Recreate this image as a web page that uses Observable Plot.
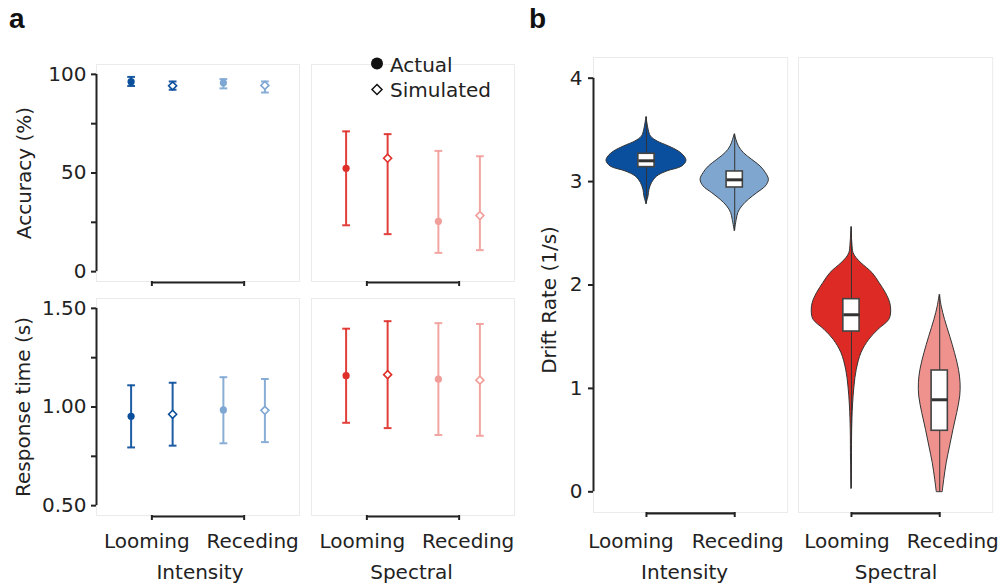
<!DOCTYPE html>
<html><head><meta charset="utf-8">
<script src="https://cdn.jsdelivr.net/npm/d3@7"></script>
<script src="https://cdn.jsdelivr.net/npm/@observablehq/plot@0.6"></script>
<style>
html,body{margin:0;padding:0;background:#fff;}
#root{position:relative;width:1003px;height:588px;overflow:hidden;background:#fff;font-family:"DejaVu Sans";}
#root svg{position:absolute;}
</style></head><body><div id="root"></div>
<script>
// ---------------- DATA ----------------
const conditions = ["Looming", "Receding"];
const modalities = ["Intensity", "Spectral"];
const sources = ["Actual", "Simulated"];

const rowModality  = ["Intensity","Intensity","Intensity","Intensity","Spectral","Spectral","Spectral","Spectral"];
const rowCondition = ["Looming","Looming","Receding","Receding","Looming","Looming","Receding","Receding"];
const rowSource    = ["Actual","Simulated","Actual","Simulated","Actual","Simulated","Actual","Simulated"];

// Accuracy (%)
const accMean = [96.3, 94.2, 95.7, 94.4, 52.4, 57.5, 25.5, 28.4];
const accLow  = [94.1, 92.2, 92.9, 90.8, 23.5, 19.0, 9.5, 10.9];
const accHigh = [98.7, 96.4, 97.6, 96.4, 71.1, 69.7, 61.2, 58.5];
// Response time (s)
const rtMean = [0.953, 0.963, 0.985, 0.983, 1.159, 1.164, 1.141, 1.136];
const rtLow  = [0.795, 0.804, 0.816, 0.822, 0.920, 0.893, 0.858, 0.854];
const rtHigh = [1.110, 1.123, 1.151, 1.142, 1.397, 1.435, 1.425, 1.421];

const accTicks = [0, 25, 50, 75, 100];
const accTickLabels = ["0", "", "50", "", "100"];
const rtTicks = [0.5, 0.75, 1, 1.25, 1.5];
const rtTickLabels = ["0.50", "", "1.00", "", "1.50"];
const driftTicks = [0, 1, 2, 3, 4];
const driftTickLabels = ["0", "1", "2", "3", "4"];

// Drift rate violins: levels (1/s) and half-widths (in category units)
const violinIntLoomY = [2.783, 2.856, 2.92, 2.985, 3.05, 3.098, 3.146, 3.20, 3.243, 3.29, 3.34, 3.388, 3.436, 3.50, 3.624];
const violinIntLoomW = [0, 0.023, 0.034, 0.062, 0.123, 0.236, 0.406, 0.453, 0.43, 0.368, 0.255, 0.125, 0.051, 0.025, 0];
const violinIntRecY = [2.524, 2.63, 2.695, 2.759, 2.824, 2.888, 2.953, 3.017, 3.082, 3.146, 3.21, 3.275, 3.34, 3.40, 3.458];
const violinIntRecW = [0, 0.023, 0.04, 0.085, 0.16, 0.255, 0.353, 0.387, 0.353, 0.293, 0.198, 0.104, 0.047, 0.02, 0];
const violinSpecLoomY = [0.03, 0.3, 0.6, 0.825, 1.018, 1.18, 1.341, 1.47, 1.567, 1.663, 1.744, 1.825, 1.92, 2.02, 2.115, 2.21, 2.26, 2.31, 2.40, 2.56];
const violinSpecLoomW = [0, 0.005, 0.008, 0.017, 0.034, 0.06, 0.113, 0.202, 0.306, 0.429, 0.45, 0.439, 0.391, 0.317, 0.238, 0.113, 0.057, 0.023, 0.01, 0];
const violinSpecRecY = [0.0, 0.116, 0.277, 0.438, 0.60, 0.761, 0.922, 1.05, 1.18, 1.341, 1.50, 1.663, 1.79, 1.905];
const violinSpecRecW = [0.034, 0.051, 0.079, 0.117, 0.156, 0.198, 0.232, 0.236, 0.218, 0.173, 0.119, 0.06, 0.023, 0];

// Box plot summaries: [Int-Looming, Int-Receding, Spec-Looming, Spec-Receding]
const driftMin = [2.783, 2.524, 0.03, 0.0];
const driftQ1  = [3.140, 2.943, 1.55, 0.59];
const driftMed = [3.201, 3.017, 1.712, 0.89];
const driftQ3  = [3.269, 3.098, 1.863, 1.173];
const driftMax = [3.624, 3.458, 2.56, 1.905];

// ---------------- STYLE ----------------
const pointColors = {
  "Intensity|Looming": "#0b4f9c", "Intensity|Receding": "#7fa7d3",
  "Spectral|Looming": "#df2f2a", "Spectral|Receding": "#f19e9a"
};
const violinColors = {
  "Intensity|Looming": "#0a4f9e", "Intensity|Receding": "#7fa6cf",
  "Spectral|Looming": "#de2a24", "Spectral|Receding": "#ef928e"
};
const textColor = "#222";
const FONT = "DejaVu Sans";
const xDomain = [-0.6, 1.6];
const dodge = 0.225;

const root = document.getElementById("root");

const rows = rowModality.map((m, i) => ({
  modality: m, condition: rowCondition[i], source: rowSource[i],
  key: m + "|" + rowCondition[i],
  pos: conditions.indexOf(rowCondition[i]) + (rowSource[i] === "Actual" ? -dodge : dodge),
  acc: accMean[i], accLo: accLow[i], accHi: accHigh[i],
  rt: rtMean[i], rtLo: rtLow[i], rtHi: rtHigh[i]
}));

function panel(o) {
  const ml = 110, mr = 12, mt = 12, mb = 80;
  const marks = [Plot.frame({stroke: "#ebebeb", strokeWidth: 1})];
  marks.push(...o.marks);
  if (o.showY) {
    marks.push(Plot.ruleX([xDomain[0]], {y1: o.yTicks[0], y2: o.yTicks[o.yTicks.length - 1], stroke: textColor, strokeWidth: 2}));
    marks.push(Plot.axisY(o.yTicks, {tickSize: 5, tickPadding: o.yPad, strokeWidth: 2, fontSize: 20, fill: textColor,
      tickFormat: (d, i) => o.yLabels[o.yTicks.indexOf(d)], label: null}));
    marks.push(Plot.text([o.yTitle], {text: d => d, frameAnchor: "left", textAnchor: "middle", lineAnchor: "middle", rotate: -90, dx: o.yTitleDx, dy: o.yTitleDy, fontSize: 20, fill: textColor}));
  }
  // capped x axis bracket
  marks.push(Plot.ruleY([o.yDomain[0]], {x1: 0, x2: 1, stroke: textColor, strokeWidth: 2.2, dy: 1}));
  marks.push(Plot.axisX([0, 1], {tickSize: 5, strokeWidth: 2, tickFormat: () => "", label: null, stroke: textColor}));
  if (o.showX) {
    conditions.forEach((c, i) => {
      marks.push(Plot.axisX([i], {tickSize: 0, tickPadding: o.xPad, dx: o.xDx[i], fontSize: 20, fill: textColor,
        tickFormat: () => c, label: null}));
    });
    marks.push(Plot.text([o.facet], {text: d => d, frameAnchor: "bottom", lineAnchor: "bottom", dy: o.facetDy, dx: o.facetDx, fontSize: 20, fill: textColor}));
  }
  const svg = Plot.plot({
    width: ml + o.fw + mr, height: mt + o.fh + mb,
    marginLeft: ml, marginRight: mr, marginTop: mt, marginBottom: mb,
    x: {domain: xDomain, axis: null},
    y: {domain: o.yDomain, axis: null},
    style: {background: "transparent", overflow: "visible", fontFamily: FONT, fontSize: "20px", color: textColor},
    marks
  });
  svg.style.left = (o.fl - ml) + "px";
  svg.style.top = (o.ft - mt) + "px";
  root.appendChild(svg);
}

function pointMarks(modality, v, lo, hi) {
  const data = rows.filter(d => d.modality === modality);
  const act = data.filter(d => d.source === "Actual");
  const sim = data.filter(d => d.source === "Simulated");
  const col = d => pointColors[d.key];
  const cap = 0.042;
  return [
    Plot.ruleX(data, {x: "pos", y1: lo, y2: hi, stroke: col, strokeWidth: 2, strokeOpacity: 0.92}),
    Plot.link(data, {x1: d => d.pos - cap, x2: d => d.pos + cap, y1: hi, y2: hi, stroke: col, strokeWidth: 2, strokeOpacity: 0.92}),
    Plot.link(data, {x1: d => d.pos - cap, x2: d => d.pos + cap, y1: lo, y2: lo, stroke: col, strokeWidth: 2, strokeOpacity: 0.92}),
    Plot.dot(act, {x: "pos", y: v, r: 3.6, fill: col, stroke: "none"}),
    Plot.dot(sim, {x: "pos", y: v, r: 3.6, symbol: "diamond2", fill: "white", stroke: col, strokeWidth: 1.6})
  ];
}

// ---- Panel a ----
const aCols = [{fl: 96, facet: "Intensity", xDx: [-5, 8.5], facetDx: 2}, {fl: 311, facet: "Spectral", xDx: [-4.5, 9], facetDx: -1.5}];
aCols.forEach((c, ci) => {
  panel({fl: c.fl, ft: 64, fw: 203, fh: 217, yDomain: [-5, 105], yTicks: accTicks, yLabels: accTickLabels,
    yPad: 5, yTitle: "Accuracy (%)", yTitleDx: -72, yTitleDy: 0, showY: ci === 0, showX: false,
    facet: c.facet, marks: pointMarks(c.facet, "acc", "accLo", "accHi")});
  panel({fl: c.fl, ft: 298, fw: 203, fh: 217, yDomain: [0.45, 1.55], yTicks: rtTicks, yLabels: rtTickLabels,
    yPad: 5, yTitle: "Response time (s)", yTitleDx: -73, yTitleDy: 0, showY: ci === 0, showX: true,
    xPad: 18, xDx: c.xDx, facet: c.facet, facetDx: c.facetDx, facetDy: 63.5,
    marks: pointMarks(c.facet, "rt", "rtLo", "rtHi")});
});

// ---- Panel b ----
const violinY = [[violinIntLoomY, violinIntRecY], [violinSpecLoomY, violinSpecRecY]];
const violinW = [[violinIntLoomW, violinIntRecW], [violinSpecLoomW, violinSpecRecW]];
const bCols = [{fl: 592.7, facet: "Intensity", xDx: [-15.5, 3], facetDx: -6}, {fl: 797.7, facet: "Spectral", xDx: [-4.5, 13], facetDx: 0.5}];
bCols.forEach((c, ci) => {
  const marks = [];
  conditions.forEach((cond, k) => {
    const key = c.facet + "|" + cond;
    const prof = violinY[ci][k].map((y, j) => ({y, w: violinW[ci][k][j]}));
    const g = ci * 2 + k;
    marks.push(Plot.areaX(prof, {y: "y", x1: d => k - d.w, x2: d => k + d.w, fill: violinColors[key], stroke: "#333", strokeWidth: 1, curve: "catmull-rom"}));
    const box = [{x: k, min: driftMin[g], q1: driftQ1[g], med: driftMed[g], q3: driftQ3[g], max: driftMax[g]}];
    const bw = 0.092;
    marks.push(Plot.ruleX(box, {x: "x", y1: "min", y2: "max", stroke: "#333", strokeWidth: 1}));
    marks.push(Plot.rect(box, {x1: d => d.x - bw, x2: d => d.x + bw, y1: "q1", y2: "q3", fill: "white", stroke: "#444", strokeWidth: 1.6}));
    marks.push(Plot.link(box, {x1: d => d.x - bw, x2: d => d.x + bw, y1: "med", y2: "med", stroke: "#333", strokeWidth: 3}));
  });
  panel({fl: c.fl, ft: 56.7, fw: 194.2, fh: 455, yDomain: [-0.2, 4.2], yTicks: driftTicks, yLabels: driftTickLabels,
    yPad: 6, yTitle: "Drift Rate (1/s)", yTitleDx: -43.7, yTitleDy: 15, showY: ci === 0, showX: true,
    xPad: 21, xDx: c.xDx, facet: c.facet, facetDx: c.facetDx, facetDy: 66.6, marks});
});

// ---- Panel letters and legend ----
const ov = d3.select(root).append("svg").attr("width", 1003).attr("height", 588)
  .style("left", "0px").style("top", "0px").style("pointer-events", "none");
ov.append("text").attr("x", 9).attr("y", 27.5).text("a")
  .attr("font-family", "Liberation Sans").attr("font-weight", "bold").attr("font-size", 28).attr("fill", "#111");
ov.append("text").attr("x", 529).attr("y", 27.5).text("b")
  .attr("font-family", "Liberation Sans").attr("font-weight", "bold").attr("font-size", 28).attr("fill", "#111");
const leg = ov.append("g");
leg.append("circle").attr("cx", 377).attr("cy", 63.5).attr("r", 6).attr("fill", "#111");
leg.append("path").attr("d", "M377,84.5L382,89.5L377,94.5L372,89.5Z").attr("fill", "white").attr("stroke", "#111").attr("stroke-width", 1.5);
leg.append("text").attr("x", 390).attr("y", 71.5).text(sources[0]).attr("font-family", FONT).attr("font-size", 20).attr("fill", textColor);
leg.append("text").attr("x", 390).attr("y", 97).text(sources[1]).attr("font-family", FONT).attr("font-size", 20).attr("fill", textColor);
</script></body></html>
